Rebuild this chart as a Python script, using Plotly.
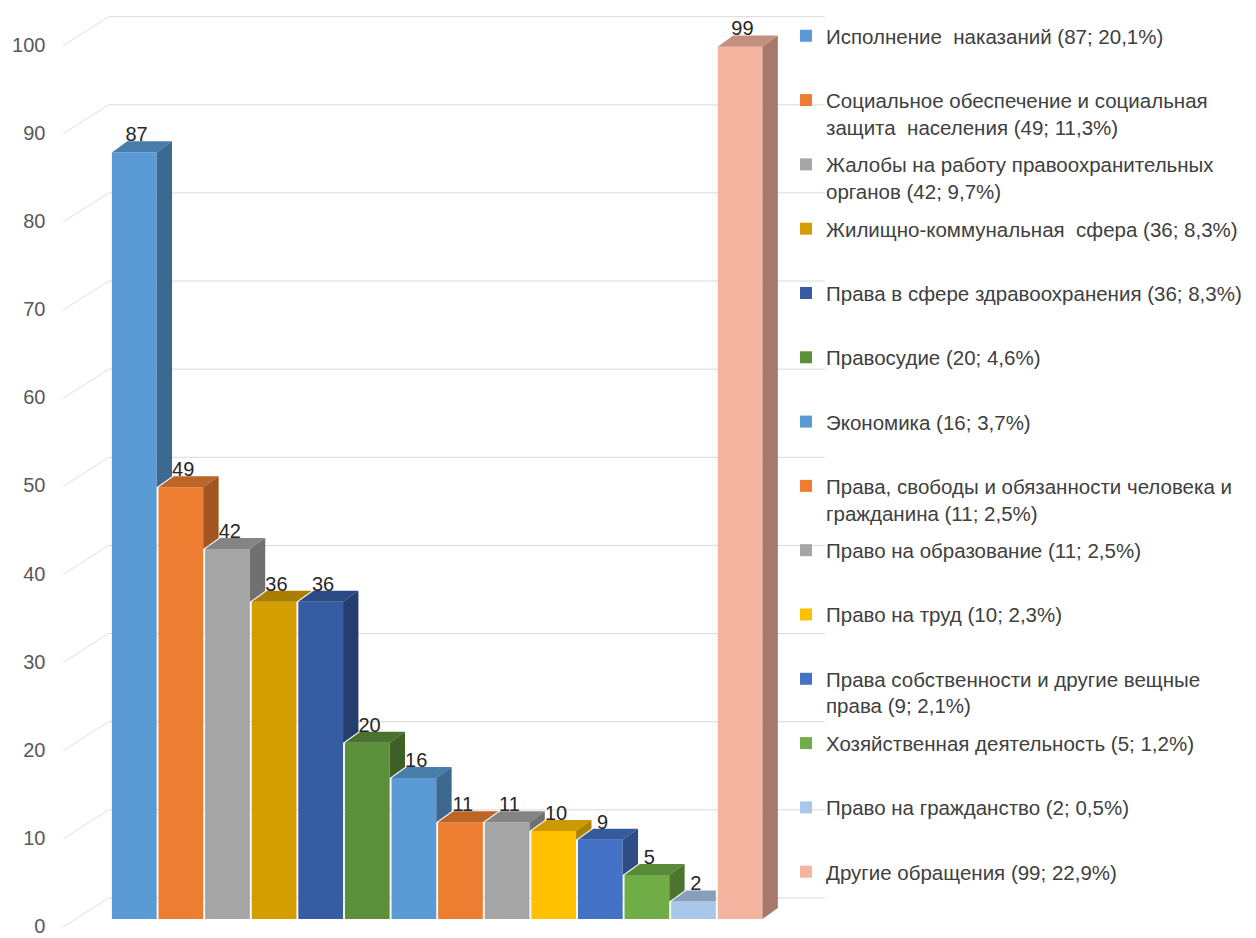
import plotly.graph_objects as go

# ---------------- data ----------------
categories = [
    "Исполнение  наказаний",
    "Социальное обеспечение и социальная<br>защита  населения",
    "Жалобы на работу правоохранительных<br>органов",
    "Жилищно-коммунальная  сфера",
    "Права в сфере здравоохранения",
    "Правосудие",
    "Экономика",
    "Права, свободы и обязанности человека и<br>гражданина",
    "Право на образование",
    "Право на труд",
    "Права собственности и другие вещные<br>права",
    "Хозяйственная деятельность",
    "Право на гражданство",
    "Другие обращения",
]
values = [87, 49, 42, 36, 36, 20, 16, 11, 11, 10, 9, 5, 2, 99]
percents = ["20,1%", "11,3%", "9,7%", "8,3%", "8,3%", "4,6%", "3,7%",
            "2,5%", "2,5%", "2,3%", "2,1%", "1,2%", "0,5%", "22,9%"]
colors = ["#5B9BD5", "#ED7D31", "#A5A5A5", "#D59E00", "#365CA3", "#5B8F3A",
          "#5B9BD5", "#ED7D31", "#A5A5A5", "#FFC000", "#4472C4", "#70AD47",
          "#A9C7E8", "#F4B4A0"]
y_ticks = [0, 10, 20, 30, 40, 50, 60, 70, 80, 90, 100]

# ---------------- geometry / style ----------------
W, H = 1256, 938
BAR_W = 0.96
DX, DY = 0.33, 1.25          # bar depth (x units, y units)
LABEL_DY = 0.7
WALL_X0, WALL_X1, WALL_DY = -0.55, 14.82, 2.4
DIAG_X0, DIAG_DY = -1.53, -0.9
X_RANGE = [-1.8, 15.5]
Y_RANGE = [-1.5, 103]
X_PX = [42.4, 848.6]
Y_PX = [929.3, 3.4]
FONT = "Liberation Sans, Arial"


def shade(hex_color, f):
    h = hex_color.lstrip("#")
    r, g, b = (int(h[i:i + 2], 16) for i in (0, 2, 4))
    return "rgb(%d,%d,%d)" % (r * f, g * f, b * f)


fig = go.Figure()

n = len(values)
for i, (cat, v, p, c) in enumerate(zip(categories, values, percents, colors)):
    name = f"{cat} ({v}; {p})"
    if "<br>" not in name:
        name += "<br> "
    fig.add_trace(go.Bar(
        x=[i], y=[v], width=BAR_W, marker=dict(color=c, line=dict(width=0)),
        name=name, legendgroup=str(i), hoverinfo="y",
    ))

# 3D faces (drawn above bar layer, clipped against neighbours)
for i, (v, c) in enumerate(zip(values, colors)):
    L = i - BAR_W / 2
    R = i + BAR_W / 2
    nxt = values[i + 1] if i + 1 < n else 0
    # top face
    if nxt > v:
        tx = [L, R, R, L + DX, L]
    else:
        tx = [L, R, R + DX, L + DX, L]
    ty = [v, v, v + DY, v + DY, v]
    fig.add_trace(go.Scatter(x=tx, y=ty, fill="toself", mode="lines",
                             line=dict(width=0), fillcolor=shade(c, 0.8),
                             showlegend=False, hoverinfo="skip"))
    # side face
    if nxt < v:
        h = nxt
        sx = [R, R, R + DX, R + DX, R]
        sy = [h, v, v + DY, h + DY, h]
        fig.add_trace(go.Scatter(x=sx, y=sy, fill="toself", mode="lines",
                                 line=dict(width=0), fillcolor=shade(c, 0.68),
                                 showlegend=False, hoverinfo="skip"))

# value labels
fig.add_trace(go.Scatter(
    x=[i + 0.05 for i in range(n)], y=[v + LABEL_DY for v in values],
    text=[str(v) for v in values], mode="text", textposition="top center",
    textfont=dict(family=FONT, size=20, color="#262626"),
    showlegend=False, hoverinfo="skip", cliponaxis=False,
))

# back wall gridlines + perspective diagonals
shapes = []
for t in y_ticks:
    shapes.append(dict(type="line", xref="x", yref="y", layer="below",
                       x0=WALL_X0, x1=WALL_X1, y0=t + WALL_DY, y1=t + WALL_DY,
                       line=dict(color="#D9D9D9", width=1)))
    shapes.append(dict(type="line", xref="x", yref="y", layer="below",
                       x0=DIAG_X0, x1=WALL_X0, y0=t + DIAG_DY, y1=t + WALL_DY,
                       line=dict(color="#E0E0E0", width=1)))

fig.update_layout(
    width=W, height=H,
    margin=dict(l=0, r=0, t=0, b=0),
    paper_bgcolor="white", plot_bgcolor="white",
    barmode="overlay",
    shapes=shapes,
    showlegend=True,
    legend=dict(
        x=778 / W, xanchor="left", y=1 - 8 / H, yanchor="top",
        font=dict(family=FONT, size=20.5, color="#404040"),
        traceorder="grouped", tracegroupgap=8, valign="top",
        itemwidth=30, bgcolor="rgba(0,0,0,0)",
    ),
    xaxis=dict(range=X_RANGE, domain=[X_PX[0] / W, X_PX[1] / W],
               showgrid=False, zeroline=False, showline=False,
               showticklabels=False, fixedrange=True),
    yaxis=dict(range=Y_RANGE, domain=[(H - Y_PX[0]) / H, (H - Y_PX[1]) / H],
               tickvals=y_ticks, showgrid=False, zeroline=False, showline=False,
               tickfont=dict(family=FONT, size=20, color="#595959"),
               ticklabelshift=7, ticklabelstandoff=4, fixedrange=True),
)

fig.write_html("out.html")
